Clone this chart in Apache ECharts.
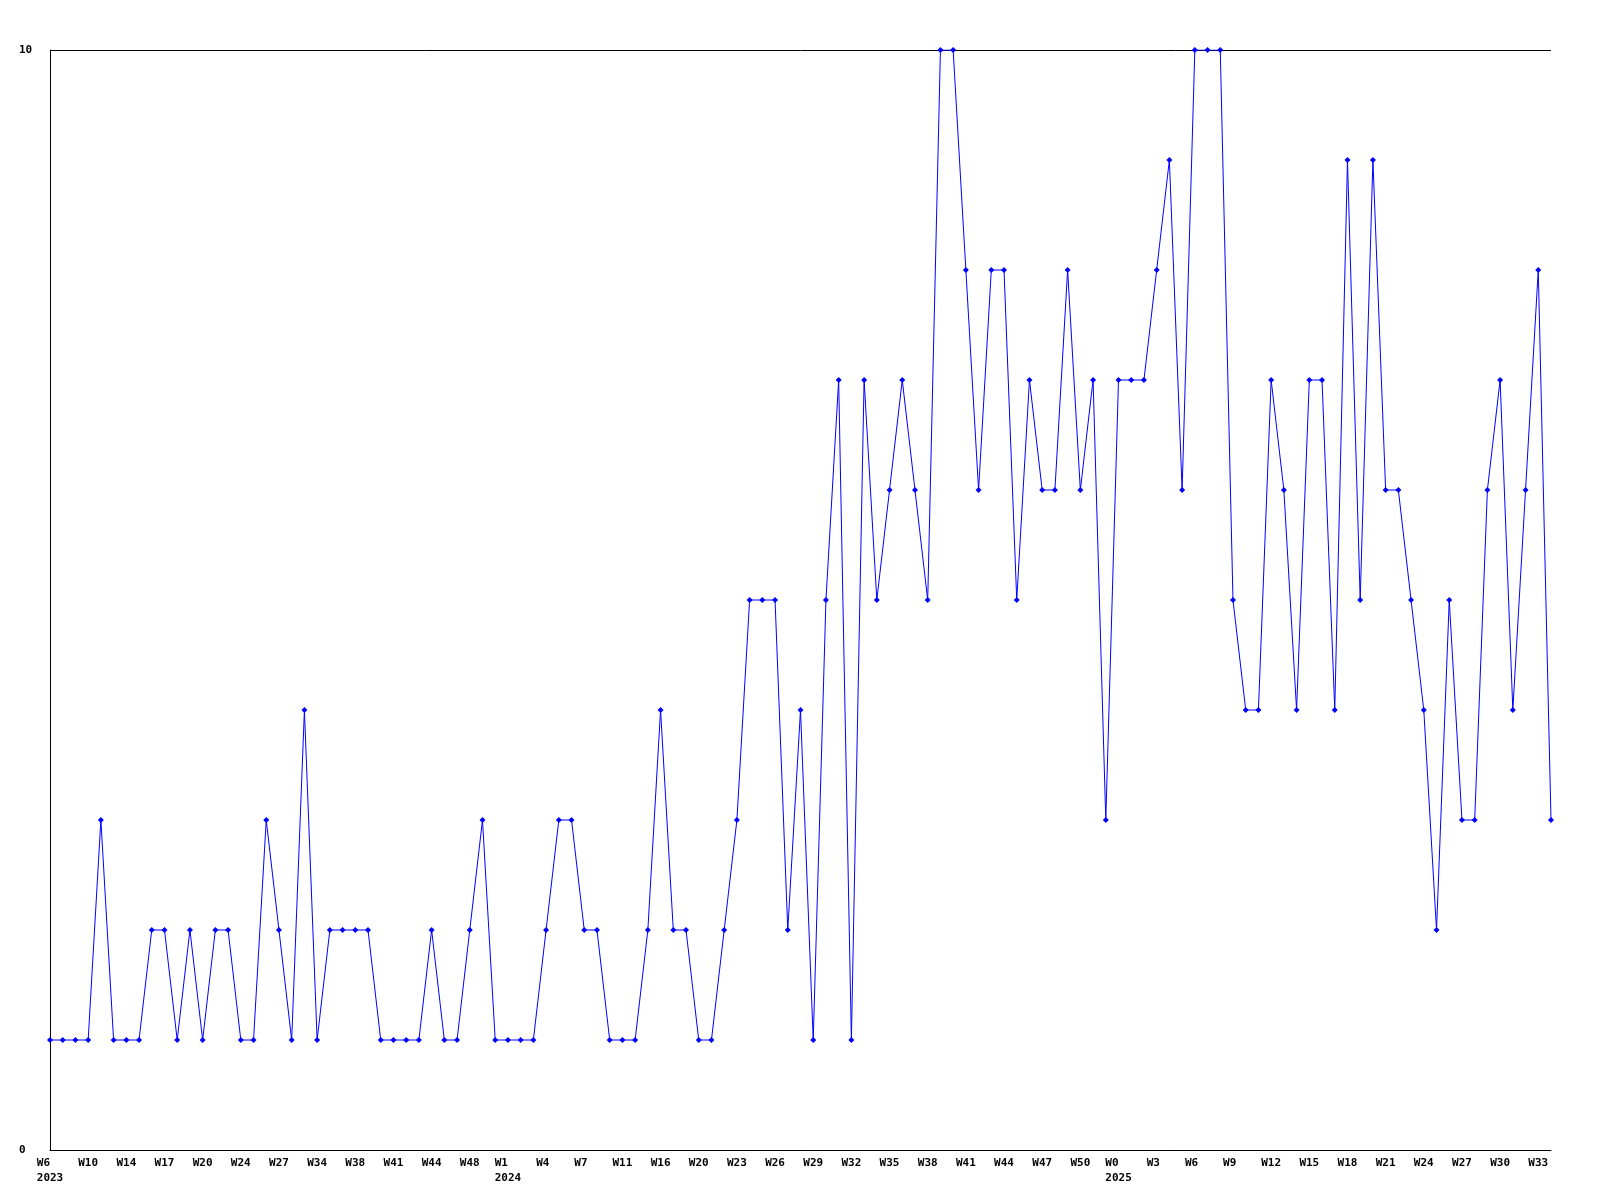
<!DOCTYPE html>
<html>
<head>
<meta charset="utf-8">
<script src="https://cdn.jsdelivr.net/npm/echarts@6/dist/echarts.min.js"></script>
<style>
html,body{margin:0;padding:0;background:#fff;}
#chart{width:1600px;height:1200px;}
</style>
</head>
<body>
<div id="chart"></div>
<script>
// week categories (year-week)
const years = [
  '2023','2023','2023','2023','2023','2023','2023','2023','2023','2023','2023','2023',
  '2023','2023','2023','2023','2023','2023','2023','2023','2023','2023','2023','2023',
  '2023','2023','2023','2023','2023','2023','2023','2023','2023','2023','2023','2023',
  '2024','2024','2024','2024','2024','2024','2024','2024','2024','2024','2024','2024',
  '2024','2024','2024','2024','2024','2024','2024','2024','2024','2024','2024','2024',
  '2024','2024','2024','2024','2024','2024','2024','2024','2024','2024','2024','2024',
  '2024','2024','2024','2024','2024','2024','2024','2024','2024','2024','2024','2024',
  '2025','2025','2025','2025','2025','2025','2025','2025','2025','2025','2025','2025',
  '2025','2025','2025','2025','2025','2025','2025','2025','2025','2025','2025','2025',
  '2025','2025','2025','2025','2025','2025','2025','2025','2025','2025','2025'
];
const weeks = [
  'W6','W7','W8','W10','W12','W13','W14','W15','W16','W17','W18','W19',
  'W20','W22','W23','W24','W25','W26','W27','W29','W31','W34','W36','W37',
  'W38','W39','W40','W41','W42','W43','W44','W46','W47','W48','W50','W51',
  'W1','W2','W3','W4','W5','W6','W7','W9','W10','W11','W13','W15',
  'W16','W17','W19','W20','W21','W22','W23','W24','W25','W26','W27','W28',
  'W29','W30','W31','W32','W33','W34','W35','W36','W37','W38','W39','W40',
  'W41','W42','W43','W44','W45','W46','W47','W48','W49','W50','W51','W52',
  'W0','W1','W2','W3','W4','W5','W6','W7','W8','W9','W10','W11',
  'W12','W13','W14','W15','W16','W17','W18','W19','W20','W21','W22','W23',
  'W24','W25','W26','W27','W28','W29','W30','W31','W32','W33','W34'
];
const values = [
  1,1,1,1,3,1,1,1,2,2,1,2,
  1,2,2,1,1,3,2,1,4,1,2,2,
  2,2,1,1,1,1,2,1,1,2,3,1,
  1,1,1,2,3,3,2,2,1,1,1,2,
  4,2,2,1,1,2,3,5,5,5,2,4,
  1,5,7,1,7,5,6,7,6,5,10,10,
  8,6,8,8,5,7,6,6,8,6,7,3,
  7,7,7,8,9,6,10,10,10,5,4,4,
  7,6,4,7,7,4,9,5,9,6,6,5,
  4,2,5,3,3,6,7,4,6,8,3
];
const yTicks = [0, 10];

const categories = weeks.map((w, i) => years[i] + '-' + w);

const chart = echarts.init(document.getElementById('chart'), null, {renderer: 'canvas'});
chart.setOption({
  animation: false,
  backgroundColor: '#ffffff',
  grid: {left: 50, right: 49, top: 50, bottom: 50, containLabel: false},
  xAxis: {
    type: 'category',
    data: categories,
    boundaryGap: false,
    axisLine: {show: true, lineStyle: {color: '#000', width: 1}},
    axisTick: {show: false},
    splitLine: {show: false},
    axisLabel: {
      interval: 2,
      margin: 6,
      color: '#000',
      fontFamily: 'DejaVu Sans Mono',
      fontWeight: 'bold',
      fontSize: 11,
      lineHeight: 15,
      align: 'center',
      formatter: function (val, idx) {
        const parts = val.split('-');
        const y = parts[0], w = parts[1];
        const first = idx === 0 || years[idx - 1] !== y;
        if (first) return (w + '    ').slice(0, 4) + '\n' + y;
        return (w + '   ').slice(0, 3);
      }
    }
  },
  yAxis: {
    type: 'value',
    min: yTicks[0],
    max: yTicks[1],
    interval: 10,
    axisLine: {show: true, lineStyle: {color: '#000', width: 1}},
    axisTick: {show: false},
    splitLine: {show: true, lineStyle: {color: '#000', width: 1}},
    axisLabel: {
      margin: 31,
      align: 'left',
      color: '#000',
      fontFamily: 'DejaVu Sans Mono',
      fontWeight: 'bold',
      fontSize: 11
    }
  },
  series: [{
    type: 'line',
    data: values,
    symbol: 'diamond',
    symbolSize: 6,
    showAllSymbol: true,
    lineStyle: {color: '#0000ff', width: 1},
    itemStyle: {color: '#0000ff'},
    emphasis: {disabled: true}
  }]
});
</script>
</body>
</html>
